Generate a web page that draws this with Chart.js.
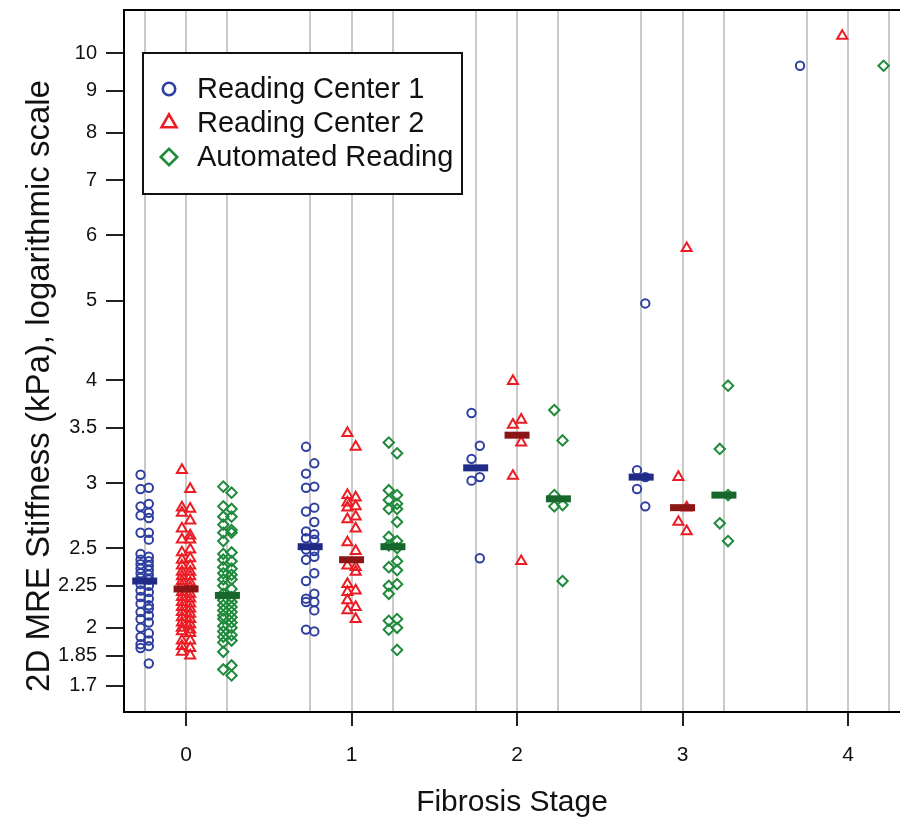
<!DOCTYPE html>
<html>
<head>
<meta charset="utf-8">
<script src="https://cdn.jsdelivr.net/npm/chart.js@4/dist/chart.umd.min.js"></script>
<style>
  html, body { margin: 0; padding: 0; background: #ffffff; }
  #wrap { width: 900px; height: 825px; }
</style>
</head>
<body>
<div id="wrap"><canvas id="c" width="900" height="825"></canvas></div>
<script>
// ---------------- DATA ----------------
const stages = [0, 1, 2, 3, 4];
const seriesNames = ['Reading Center 1', 'Reading Center 2', 'Automated Reading'];
const yTickValues = [1.7, 1.85, 2, 2.25, 2.5, 3, 3.5, 4, 5, 6, 7, 8, 9, 10];
const xAxisTitle = 'Fibrosis Stage';
const yAxisTitle = '2D MRE Stiffness (kPa), logarithmic scale';

// Reading Center 1: stage of each point, stiffness (kPa), side of the column (-1 left, +1 right)
const rc1Stage = [
  0,0,0,0,0,0,0,0,0,0,0,0,0,0,0,0,0,0,0,0,0,0,0,0,0,0,0,0,0,0,0,0,0,0,0,0,0,0,0,0,0,0,0,0,
  1,1,1,1,1,1,1,1,1,1,1,1,1,1,1,1,1,1,1,1,1,1,1,1,1,
  2,2,2,2,2,2,
  3,3,3,3,3,
  4];
const rc1Value = [
  3.07,2.95,2.96,2.83,2.81,2.74,2.76,2.72,2.61,2.61,2.56,2.46,2.44,2.42,2.41,2.39,2.38,2.36,2.35,2.33,2.32,2.30,2.29,
  2.26,2.25,2.22,2.21,2.18,2.17,2.14,2.13,2.11,2.09,2.07,2.05,2.03,2.00,1.97,1.95,1.93,1.91,1.89,1.90,1.81,
  3.32,3.17,3.08,2.96,2.97,2.77,2.80,2.69,2.62,2.60,2.57,2.56,2.49,2.48,2.42,2.44,2.33,2.28,2.17,2.20,2.15,2.15,2.10,1.99,1.98,
  3.65,3.33,3.21,3.02,3.05,2.43,
  4.96,3.11,3.05,2.95,2.81,
  9.65];
const rc1Side = [
  -1,-1,1,1,-1,-1,1,1,-1,1,1,-1,1,-1,1,-1,1,-1,1,-1,1,-1,1,
  -1,1,-1,1,-1,1,-1,1,1,-1,1,-1,1,-1,1,-1,1,-1,-1,1,1,
  -1,1,-1,-1,1,-1,1,1,-1,1,-1,1,-1,1,-1,1,1,-1,-1,1,-1,1,1,-1,1,
  -1,1,-1,-1,1,1,
  1,-1,1,-1,1,
  -1.6];

// Reading Center 2
const rc2Stage = [
  0,0,0,0,0,0,0,0,0,0,0,0,0,0,0,0,0,0,0,0,0,0,0,0,0,0,0,0,0,0,0,0,0,0,0,0,0,0,0,0,0,0,0,0,0,0,0,0,
  1,1,1,1,1,1,1,1,1,1,1,1,1,1,1,1,1,1,1,1,1,1,
  2,2,2,2,2,2,
  3,3,3,3,3,
  4];
const rc2Value = [
  3.11,2.95,2.80,2.79,2.76,2.70,2.64,2.59,2.56,2.56,2.49,2.47,2.43,2.42,2.38,2.38,2.34,2.34,2.31,2.31,2.28,2.27,2.25,2.24,
  2.21,2.20,2.18,2.17,2.15,2.14,2.12,2.11,2.09,2.08,2.06,2.05,2.03,2.02,2.00,1.99,1.98,1.97,1.93,1.93,1.90,1.89,1.87,1.85,
  3.45,3.32,2.90,2.88,2.84,2.81,2.80,2.73,2.71,2.64,2.54,2.48,2.38,2.37,2.34,2.26,2.22,2.21,2.16,2.12,2.10,2.05,
  3.99,3.58,3.53,3.36,3.06,2.41,
  5.79,3.05,2.80,2.69,2.62,
  10.49];
const rc2Side = [
  -1,1,-1,1,-1,1,-1,1,-1,1,1,-1,1,-1,-1,1,-1,1,-1,1,-1,1,-1,1,
  -1,1,-1,1,-1,1,-1,1,-1,1,-1,1,-1,1,-1,1,-1,1,-1,1,-1,1,-1,1,
  -1,1,-1,1,-1,1,-1,1,-1,1,-1,1,-1,1,1,-1,1,-1,-1,1,-1,1,
  -1,1,-1,1,-1,1,
  1,-1,1,-1,1,
  -1.4];

// Automated Reading
const arStage = [
  0,0,0,0,0,0,0,0,0,0,0,0,0,0,0,0,0,0,0,0,0,0,0,0,0,0,0,0,0,0,0,0,0,0,0,0,0,0,0,0,0,0,0,0,0,0,
  1,1,1,1,1,1,1,1,1,1,1,1,1,1,1,1,1,1,1,1,1,1,1,1,
  2,2,2,2,2,2,
  3,3,3,3,3,
  4];
const arValue = [
  2.97,2.92,2.81,2.79,2.73,2.73,2.67,2.63,2.61,2.61,2.55,2.47,2.46,2.42,2.41,2.37,2.36,2.33,2.32,2.29,2.29,
  2.25,2.23,2.20,2.18,2.16,2.15,2.13,2.12,2.10,2.09,2.07,2.06,2.05,2.03,2.01,2.00,1.98,1.96,1.95,1.93,1.92,1.87,1.80,1.78,1.75,
  3.36,3.26,2.94,2.90,2.86,2.83,2.79,2.79,2.69,2.58,2.55,2.52,2.50,2.37,2.41,2.35,2.25,2.26,2.20,2.04,2.05,1.99,2.00,1.88,
  3.68,3.38,2.90,2.81,2.82,2.28,
  3.94,3.30,2.90,2.68,2.55,
  9.65];
const arSide = [
  -1,1,-1,1,-1,1,-1,1,-1,1,-1,1,-1,-1,1,-1,1,-1,1,-1,1,
  -1,1,-1,1,-1,1,-1,1,-1,1,-1,1,-1,1,-1,1,-1,1,-1,1,-1,-1,1,-1,1,
  -1,1,-1,1,-1,1,-1,1,1,-1,1,-1,1,-1,1,1,-1,1,-1,-1,1,-1,1,1,
  -1,1,-1,-1,1,1,
  1,-1,1,-1,1,
  -1.4];

// medians per stage (stages 0-3)
const medianStages = [0, 1, 2, 3];
const rc1Median = [2.28, 2.51, 3.13, 3.05];
const rc2Median = [2.23, 2.42, 3.43, 2.80];
const arMedian  = [2.19, 2.51, 2.87, 2.90];

// ---------------- LAYOUT / STYLE ----------------
const seriesOffset = [-0.25, 0, 0.25];
const jitterWidth = 0.025;
const FONT = '"Liberation Sans", Arial, Helvetica, sans-serif';
const colPoint  = ['#2f3f9f', '#ec1c24', '#1f8a3b'];
const colMedian = ['#1f2b86', '#8b1616', '#17662b'];
const pointStyles = ['circle', 'triangle', 'rectRot'];
const pointRadius = [4.2, 5.8, 5.2];

function buildPoints(stg, val, side, k) {
  return val.map((v, i) => ({ x: stg[i] + seriesOffset[k] + side[i] * jitterWidth, y: v }));
}
function buildMedians(med, k) {
  return med.map((v, i) => ({ x: medianStages[i] + seriesOffset[k], y: v }));
}
const pointSets = [
  buildPoints(rc1Stage, rc1Value, rc1Side, 0),
  buildPoints(rc2Stage, rc2Value, rc2Side, 1),
  buildPoints(arStage, arValue, arSide, 2)
];
const medianSets = [buildMedians(rc1Median, 0), buildMedians(rc2Median, 1), buildMedians(arMedian, 2)];

const datasets = [];
medianSets.forEach((d, k) => datasets.push({
  label: seriesNames[k] + ' median', data: d, order: 0,
  pointStyle: 'line', radius: 12.5, borderWidth: 7,
  borderColor: colMedian[k], backgroundColor: colMedian[k], showLine: false
}));
pointSets.forEach((d, k) => datasets.push({
  label: seriesNames[k], data: d, order: 1,
  pointStyle: pointStyles[k], radius: pointRadius[k], borderWidth: 2,
  borderColor: colPoint[k], backgroundColor: 'rgba(0,0,0,0)', showLine: false
}));

const xGridTicks = [];
stages.forEach(s => seriesOffset.forEach(o => xGridTicks.push(s + o)));

const framePlugin = {
  id: 'frameAndLegend',
  afterDraw(chart) {
    const ctx = chart.ctx, a = chart.chartArea;
    ctx.save();
    // top frame line
    ctx.strokeStyle = '#000'; ctx.lineWidth = 2;
    ctx.beginPath(); ctx.moveTo(a.left - 1, a.top); ctx.lineTo(a.right, a.top); ctx.stroke();

    // y axis title (rotated)
    ctx.save();
    ctx.translate(40, (a.top + a.bottom) / 2 + 25);
    ctx.rotate(-Math.PI / 2);
    ctx.font = '33px ' + FONT;
    ctx.fillStyle = '#111';
    ctx.textAlign = 'center';
    ctx.textBaseline = 'middle';
    ctx.fillText(yAxisTitle, 0, 0);
    ctx.restore();

    // legend box
    const bx = a.left + 19, by = a.top + 43, bw = 319, bh = 141;
    ctx.fillStyle = '#ffffff';
    ctx.fillRect(bx, by, bw, bh);
    ctx.strokeStyle = '#111'; ctx.lineWidth = 2;
    ctx.strokeRect(bx, by, bw, bh);
    const rows = [36, 70, 104];
    ctx.font = '29px ' + FONT;
    ctx.textBaseline = 'middle';
    ctx.textAlign = 'left';
    rows.forEach((ry, k) => {
      const mx = bx + 26, my = by + ry;
      ctx.strokeStyle = colPoint[k]; ctx.lineWidth = 2.6;
      ctx.beginPath();
      if (k === 0) {
        ctx.arc(mx, my, 6.2, 0, Math.PI * 2);
      } else if (k === 1) {
        const r = 8.6;
        ctx.moveTo(mx, my - r);
        ctx.lineTo(mx + r * Math.sin(2 * Math.PI / 3), my - r * Math.cos(2 * Math.PI / 3));
        ctx.lineTo(mx + r * Math.sin(4 * Math.PI / 3), my - r * Math.cos(4 * Math.PI / 3));
        ctx.closePath();
      } else {
        const r = 8.2;
        ctx.moveTo(mx - r, my); ctx.lineTo(mx, my - r); ctx.lineTo(mx + r, my); ctx.lineTo(mx, my + r);
        ctx.closePath();
      }
      ctx.stroke();
      ctx.fillStyle = '#111';
      ctx.fillText(seriesNames[k], bx + 54, my + 1);
    });
    ctx.restore();
  }
};

new Chart(document.getElementById('c'), {
  type: 'scatter',
  data: { datasets },
  plugins: [framePlugin],
  options: {
    responsive: false,
    animation: false,
    devicePixelRatio: 1,
    layout: { autoPadding: false, padding: { top: 10, right: 0, left: 0, bottom: 0 } },
    plugins: { legend: { display: false }, tooltip: { enabled: false } },
    scales: {
      x: {
        type: 'linear',
        min: -0.375, max: 4.314,
        afterBuildTicks: s => { s.ticks = xGridTicks.map(v => ({ value: v })); },
        afterFit: s => { s.height = 113; s.paddingLeft = 0; s.paddingRight = 0; },
        border: { display: true, color: '#000', width: 2 },
        grid: {
          color: '#cacaca', lineWidth: 2, drawTicks: true, tickLength: 14, tickWidth: 2,
          tickColor: c => (c.tick && Number.isInteger(c.tick.value)) ? '#222' : 'rgba(0,0,0,0)'
        },
        ticks: {
          autoSkip: false, maxRotation: 0, padding: 17, color: '#111',
          font: { family: FONT, size: 21 },
          callback: v => Number.isInteger(v) ? String(v) : ''
        },
        title: {
          display: true, text: xAxisTitle, color: '#111',
          font: { family: FONT, size: 30 }, padding: { top: 0, bottom: 4 }
        }
      },
      y: {
        type: 'logarithmic',
        min: 1.58, max: 11.28,
        afterBuildTicks: s => { s.ticks = yTickValues.map(v => ({ value: v })); },
        afterFit: s => { s.width = 124; s.paddingTop = 0; s.paddingBottom = 0; },
        border: { display: true, color: '#000', width: 2 },
        grid: { drawOnChartArea: false, drawTicks: true, tickLength: 18, tickWidth: 2, tickColor: '#222', lineWidth: 2 },
        ticks: {
          autoSkip: false, padding: 9, color: '#111',
          font: { family: FONT, size: 20 },
          callback: v => String(v)
        },
        title: { display: false }
      }
    }
  }
});
</script>
</body>
</html>
